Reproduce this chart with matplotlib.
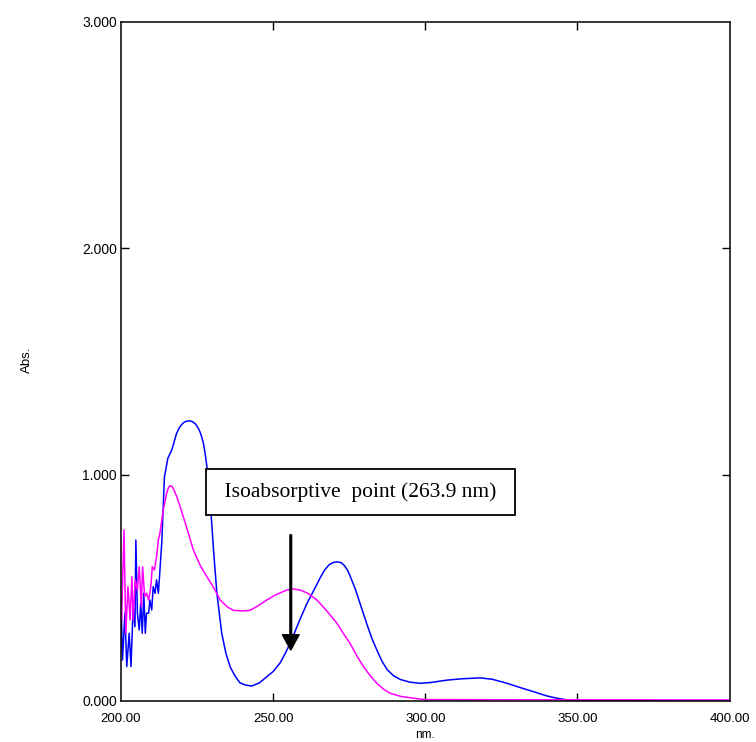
import numpy as np
import matplotlib
matplotlib.use('Agg')
import matplotlib.pyplot as plt

# spectrum 1 (blue)
blue_nm = [200.0, 200.5, 201.3, 201.9, 202.7, 203.3, 204.0, 204.6, 204.9, 205.4,
           206.0, 206.5, 207.0, 207.5, 208.0, 208.4, 209.1, 209.5, 210.1, 210.6,
           211.2, 211.7, 212.3, 213.4, 214.3, 215.4, 216.7, 218.3, 219.2, 220.0,
           220.8, 221.6, 222.5, 223.5, 224.5, 225.4, 226.0, 226.5, 227.1, 227.6,
           228.5, 229.3, 230.4, 231.5, 233.1, 234.5, 235.9, 237.5, 239.1, 241.0,
           243.0, 245.5, 247.9, 250.0, 252.3, 254.0, 256.1, 258.5, 261.1, 263.8,
           265.5, 267.0, 268.5, 270.0, 271.5, 272.5, 273.5, 274.5, 275.3, 277.0,
           278.6, 280.8, 282.5, 284.1, 285.8, 287.4, 289.5, 291.8, 295.0, 298.4,
           302.0, 307.1, 312.0, 318.0, 322.0, 326.9, 331.0, 335.6, 340.0, 343.3,
           347.0, 350.0, 400.0]
blue_abs = [0.461, 0.181, 0.388, 0.152, 0.299, 0.152, 0.417, 0.328, 0.711, 0.388,
            0.314, 0.432, 0.299, 0.476, 0.299, 0.388, 0.388, 0.446, 0.402, 0.505,
            0.476, 0.535, 0.476, 0.697, 0.991, 1.072, 1.109, 1.183, 1.208, 1.222,
            1.232, 1.236, 1.238, 1.234, 1.224, 1.205, 1.188, 1.168, 1.138, 1.100,
            1.010, 0.890, 0.670, 0.480, 0.300, 0.210, 0.150, 0.110, 0.080, 0.070,
            0.066, 0.080, 0.107, 0.130, 0.168, 0.210, 0.270, 0.350, 0.430, 0.500,
            0.545, 0.580, 0.603, 0.613, 0.614, 0.610, 0.597, 0.577, 0.552, 0.495,
            0.430, 0.340, 0.275, 0.225, 0.175, 0.140, 0.112, 0.095, 0.083, 0.078,
            0.082, 0.092, 0.098, 0.102, 0.096, 0.078, 0.060, 0.041, 0.022, 0.012,
            0.004, 0.002, 0.002]

# spectrum 2 (magenta)
mag_nm = [200.2, 201.0, 201.6, 202.3, 203.0, 203.6, 204.0, 204.7, 205.4, 206.0,
          206.7, 207.1, 207.8, 208.4, 209.1, 209.8, 210.3, 211.0, 211.7, 212.3,
          212.8, 213.9, 215.0, 215.6, 216.1, 216.8, 217.5, 218.4, 219.4, 221.5,
          223.8, 226.0, 228.2, 230.5, 232.6, 235.0, 237.0, 239.7, 242.4, 245.0,
          247.9, 251.0, 254.5, 256.5, 258.9, 261.5, 264.4, 267.5, 271.0, 273.0,
          275.3, 277.5, 279.7, 282.0, 284.1, 286.5, 288.5, 292.0, 296.2, 300.0,
          400.0]
mag_abs = [0.358, 0.756, 0.299, 0.505, 0.358, 0.549, 0.358, 0.535, 0.490, 0.593,
           0.417, 0.593, 0.461, 0.476, 0.446, 0.505, 0.593, 0.579, 0.638, 0.711,
           0.741, 0.844, 0.918, 0.942, 0.951, 0.948, 0.930, 0.900, 0.860, 0.770,
           0.667, 0.600, 0.550, 0.500, 0.446, 0.415, 0.400, 0.398, 0.400, 0.420,
           0.446, 0.470, 0.490, 0.495, 0.490, 0.475, 0.446, 0.400, 0.343, 0.300,
           0.254, 0.200, 0.152, 0.110, 0.078, 0.050, 0.034, 0.020, 0.012, 0.006,
           0.004]

x_ticks = [200, 250, 300, 350, 400]
y_ticks = [0, 1, 2, 3]
note = 'Isoabsorptive  point (263.9 nm)'

fig = plt.figure(figsize=(7.56, 7.42), dpi=100)
ax = fig.add_axes([0.160, 0.0553, 0.805, 0.9151])

ax.plot(blue_nm, blue_abs, color='#0000ff', lw=1.1)
ax.plot(mag_nm, mag_abs, color='#ff00ff', lw=1.1)

ax.set_xlim(200, 400)
ax.set_ylim(0, 3)
ax.set_xticks(x_ticks)
ax.set_yticks(y_ticks)
ax.set_xticklabels(['%.2f' % v for v in x_ticks], family='Liberation Sans', fontsize=9.5)
ax.set_yticklabels(['%.3f' % v for v in y_ticks], family='Liberation Sans', fontsize=10)
ax.tick_params(direction='in', length=6, width=1, top=True, right=True)
ax.tick_params(axis='x', pad=9)
ax.tick_params(axis='y', pad=3)
for s in ax.spines.values():
    s.set_linewidth(1.1)

# hide tick marks that sit on the corners
for t in ax.xaxis.get_major_ticks():
    if t.get_loc() in (200, 400):
        t.tick1line.set_visible(False)
        t.tick2line.set_visible(False)
for t in ax.yaxis.get_major_ticks():
    if t.get_loc() in (0, 3):
        t.tick1line.set_visible(False)
        t.tick2line.set_visible(False)

fig.text(27 / 756, 0.515, 'Abs.', rotation=90, ha='center', va='center',
         family='Liberation Sans', fontsize=9.5)
fig.text(425 / 756, 0.0094, 'nm.', ha='center', va='center',
         family='Liberation Sans', fontsize=8.5)

# padded with a space each side so the box comes out wider than tall
ax.text(278.8, 0.924, ' ' + note + ' ', ha='center', va='center', family='Liberation Serif',
        fontsize=15.5, bbox=dict(boxstyle='square,pad=0.6', fc='white', ec='black', lw=1.3))

ax.annotate('', xy=(255.8, 0.225), xytext=(255.8, 0.734),
            arrowprops=dict(facecolor='black', edgecolor='black', width=1.2,
                            headwidth=12, headlength=11, shrink=0))

fig.savefig('out.png', dpi=100)
